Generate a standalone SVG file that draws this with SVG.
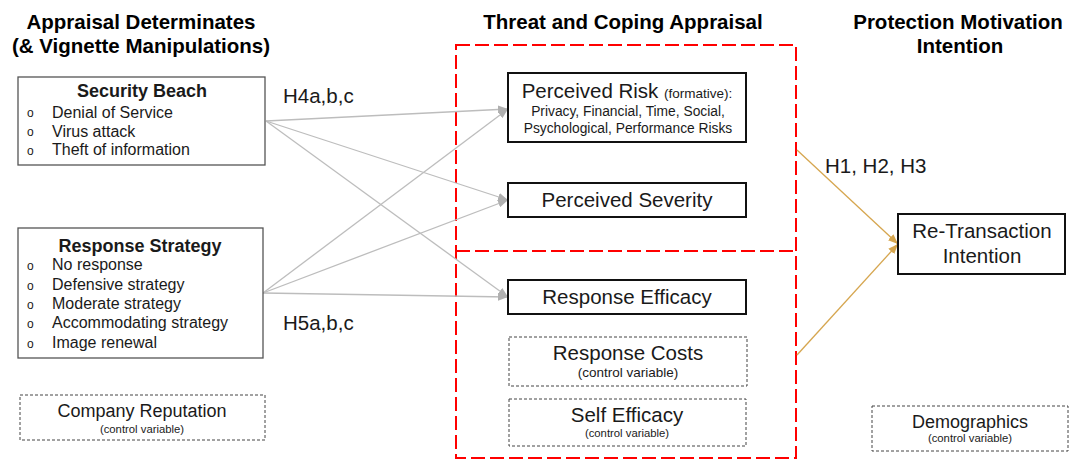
<svg xmlns="http://www.w3.org/2000/svg" width="1069" height="459" viewBox="0 0 1069 459">
<style>
text{font-family:"Liberation Sans",Arial,sans-serif;fill:#1a1a1a}
.title{font-size:20.5px;font-weight:bold;fill:#000;text-anchor:middle}
.hd{font-size:18px;font-weight:bold;text-anchor:middle}
.item{font-size:16px}
.bul{font-size:12px}
.big{font-size:20.5px;text-anchor:middle}
.mid{font-size:18px;text-anchor:middle}
.cv{font-size:11.3px;text-anchor:middle}
.cvl{font-size:13.5px;text-anchor:middle}
.lab{font-size:20.5px}
.solid{fill:#fff;stroke:#111;stroke-width:2}
.thin{fill:#fff;stroke:#555;stroke-width:1.3}
.dash{fill:#fff;stroke:#444;stroke-width:1;stroke-dasharray:3 2}
.red{fill:none;stroke:#ff0000;stroke-width:2;stroke-dasharray:14 5}
.g{stroke:#bdbdbd;stroke-width:1.3;fill:none;marker-end:url(#ga)}
.o{stroke:#d6a64f;stroke-width:1.3;fill:none;marker-end:url(#oa)}
</style>
<defs>
<marker id="ga" markerUnits="userSpaceOnUse" markerWidth="10" markerHeight="8" refX="10" refY="4" orient="auto"><path d="M0,0 L10,4 L0,8 Z" fill="#b0b0b0"/></marker>
<marker id="oa" markerUnits="userSpaceOnUse" markerWidth="10" markerHeight="8" refX="10" refY="4" orient="auto"><path d="M0,0 L10,4 L0,8 Z" fill="#d6a64f"/></marker>
</defs>
<rect width="1069" height="459" fill="#fff"/>
<g id="titles">
<text class="title" x="141" y="29">Appraisal Determinates</text>
<text class="title" x="141" y="53">(&amp; Vignette Manipulations)</text>
<text class="title" x="623" y="29">Threat and Coping Appraisal</text>
<text class="title" x="958" y="29">Protection Motivation</text>
<text class="title" x="960" y="53">Intention</text>
</g>
<g id="threat-coping-frame">
<rect class="red" x="456" y="45" width="340" height="413"/>
<line class="red" x1="456" y1="251" x2="796" y2="251"/>
</g>
<g id="connectors">
<line class="g" x1="266" y1="121" x2="508" y2="109"/>
<line class="g" x1="266" y1="121" x2="508" y2="200"/>
<line class="g" x1="266" y1="121" x2="508" y2="297"/>
<line class="g" x1="263" y1="293" x2="508" y2="109"/>
<line class="g" x1="263" y1="293" x2="508" y2="200"/>
<line class="g" x1="263" y1="293" x2="508" y2="297"/>
<line class="o" x1="797" y1="150" x2="898" y2="244"/>
<line class="o" x1="797" y1="355" x2="898" y2="244"/>
<text class="lab" x="283" y="103">H4a,b,c</text>
<text class="lab" x="283" y="330">H5a,b,c</text>
<text class="lab" x="825" y="173">H1, H2, H3</text>
</g>
<g id="security-breach">
<rect class="thin" x="18" y="77" width="247" height="88"/>
<text class="hd" x="142" y="97">Security Beach</text>
<text class="bul" x="27" y="117">o</text><text class="item" x="52" y="118">Denial of Service</text>
<text class="bul" x="27" y="136">o</text><text class="item" x="52" y="137">Virus attack</text>
<text class="bul" x="27" y="155">o</text><text class="item" x="52" y="155">Theft of information</text>
</g>
<g id="response-strategy">
<rect class="thin" x="18" y="228" width="245" height="130"/>
<text class="hd" x="140" y="252">Response Strategy</text>
<text class="bul" x="27" y="270">o</text><text class="item" x="52" y="270">No response</text>
<text class="bul" x="27" y="290">o</text><text class="item" x="52" y="290">Defensive strategy</text>
<text class="bul" x="27" y="309">o</text><text class="item" x="52" y="309">Moderate strategy</text>
<text class="bul" x="27" y="328">o</text><text class="item" x="52" y="328">Accommodating strategy</text>
<text class="bul" x="27" y="348">o</text><text class="item" x="52" y="348">Image renewal</text>
</g>
<g id="company-reputation">
<rect class="dash" x="20" y="395" width="245" height="45"/>
<text class="mid" x="142" y="417">Company Reputation</text>
<text class="cv" x="142" y="433">(control variable)</text>
</g>
<g id="perceived-risk">
<rect class="solid" x="508" y="73" width="238" height="69"/>
<text class="big" x="627" y="98">Perceived Risk <tspan style="font-size:13.5px">(formative):</tspan></text>
<text class="big" x="628" y="116" style="font-size:13.8px">Privacy, Financial, Time, Social,</text>
<text class="big" x="628" y="133" style="font-size:13.8px">Psychological, Performance Risks</text>
</g>
<g id="perceived-severity">
<rect class="solid" x="508" y="183" width="238" height="34"/>
<text class="big" x="627" y="207">Perceived Severity</text>
</g>
<g id="response-efficacy">
<rect class="solid" x="508" y="280" width="238" height="34"/>
<text class="big" x="627" y="304">Response Efficacy</text>
</g>
<g id="response-costs">
<rect class="dash" x="509" y="337" width="238" height="49"/>
<text class="big" x="628" y="360">Response Costs</text>
<text class="cvl" x="628" y="377">(control variable)</text>
</g>
<g id="self-efficacy">
<rect class="dash" x="509" y="399" width="237" height="47"/>
<text class="big" x="627" y="422">Self Efficacy</text>
<text class="cv" x="627" y="437">(control variable)</text>
</g>
<g id="re-transaction">
<rect class="solid" x="898" y="214" width="167" height="60"/>
<text class="big" x="982" y="238">Re-Transaction</text>
<text class="big" x="982" y="263">Intention</text>
</g>
<g id="demographics">
<rect class="dash" x="872" y="406" width="196" height="45"/>
<text class="mid" x="970" y="428">Demographics</text>
<text class="cv" x="970" y="442">(control variable)</text>
</g>
</svg>
